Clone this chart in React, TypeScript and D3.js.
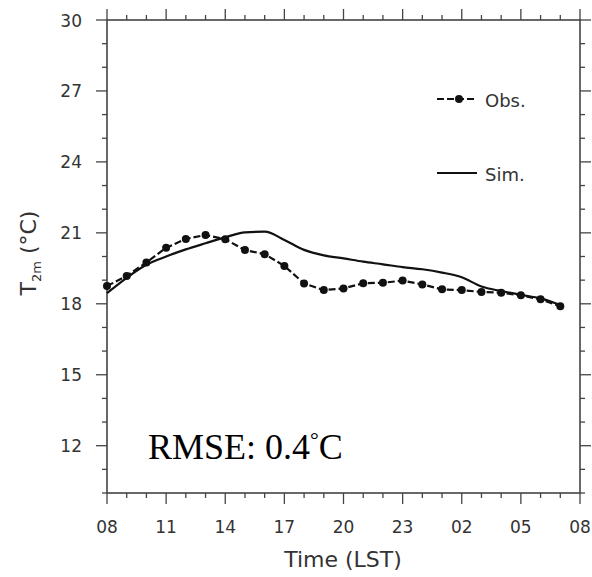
import React from "react";
import * as d3 from "d3";

const hours = d3.range(0, 24);
const obsValues = [18.75, 19.18, 19.75, 20.37, 20.74, 20.91, 20.73, 20.27, 20.1, 19.6, 18.86, 18.58, 18.65, 18.87, 18.89, 18.98, 18.82, 18.61, 18.58, 18.5, 18.47, 18.36, 18.19, 17.9];
const simValues = [18.45, 19.1, 19.65, 20.0, 20.3, 20.56, 20.81, 21.02, 21.05, 20.7, 20.28, 20.05, 19.92, 19.78, 19.67, 19.55, 19.46, 19.32, 19.12, 18.73, 18.54, 18.38, 18.23, 17.95];
const xTickLabels = ["08", "11", "14", "17", "20", "23", "02", "05", "08"];
const yTicks = [12, 15, 18, 21, 24, 27, 30];

export default function App() {
  const W = 592, H = 577;
  const left = 107, right = 580, top = 20, bottom = 493;
  const x = d3.scaleLinear().domain([0, 24]).range([left, right]);
  const y = d3.scaleLinear().domain([10, 30]).range([bottom, top]);
  const line = d3.line<number>().x((_, i) => x(hours[i])).y((d) => y(d));
  const simLine = d3.line<number>().x((_, i) => x(hours[i])).y((d) => y(d)).curve(d3.curveMonotoneX);
  const axisColor = "#444";
  const labelColor = "#333";
  const font = "'DejaVu Sans', Verdana, sans-serif";
  const majorLen = 11, minorLen = 5;
  const xMinor = d3.range(0, 25);
  const yMinor = d3.range(10, 31);

  return (
    <svg width={W} height={H} style={{ position: "absolute", left: 0, top: 0 }}>
      <rect x={0} y={0} width={W} height={H} fill="white" />
      {xMinor.map((h) => {
        const major = h % 3 === 0;
        const len = major ? majorLen : minorLen;
        return (
          <g key={"xt" + h} stroke={axisColor} strokeWidth={1.3}>
            <line x1={x(h)} x2={x(h)} y1={bottom} y2={bottom + len} />
            <line x1={x(h)} x2={x(h)} y1={top} y2={top - len} />
          </g>
        );
      })}
      {yMinor.map((v) => {
        const major = v % 3 === 0;
        const len = major ? majorLen : minorLen;
        return (
          <g key={"yt" + v} stroke={axisColor} strokeWidth={1.3}>
            <line x1={left} x2={left - len} y1={y(v)} y2={y(v)} />
            <line x1={right} x2={right + len} y1={y(v)} y2={y(v)} />
          </g>
        );
      })}
      <rect x={left} y={top} width={right - left} height={bottom - top} fill="none" stroke={axisColor} strokeWidth={1.6} />
      {xTickLabels.map((t, i) => (
        <text key={"xl" + i} x={x(i * 3)} y={533} textAnchor="middle" fontFamily={font} fontSize={17} fill={labelColor}>{t}</text>
      ))}
      {yTicks.map((v) => (
        <text key={"yl" + v} x={82} y={y(v) + 6.5} textAnchor="end" fontFamily={font} fontSize={17} fill={labelColor}>{v}</text>
      ))}
      <text x={343} y={567} textAnchor="middle" fontFamily={font} fontSize={22} fill={labelColor}>Time (LST)</text>
      <text transform="translate(36,253) rotate(-90)" textAnchor="middle" fontFamily={font} fontSize={22} fill={labelColor}>
        T<tspan fontSize={13} dy={5}>2m</tspan><tspan dy={-5}> (°C)</tspan>
      </text>
      <path d={simLine(simValues) || ""} fill="none" stroke="#111" strokeWidth={2.2} strokeLinejoin="round" />
      <path d={line(obsValues) || ""} fill="none" stroke="#111" strokeWidth={2.2} strokeDasharray="7,3" />
      {obsValues.map((v, i) => (
        <circle key={"o" + i} cx={x(hours[i])} cy={y(v)} r={4} fill="#111" />
      ))}
      <line x1={437} x2={477} y1={99} y2={99} stroke="#111" strokeWidth={2.2} strokeDasharray="7,3" />
      <circle cx={459} cy={99} r={4} fill="#111" />
      <text x={485} y={107} fontFamily={font} fontSize={18} fill={labelColor}>Obs.</text>
      <line x1={437} x2={477} y1={173} y2={173} stroke="#111" strokeWidth={2.2} />
      <text x={485} y={181} fontFamily={font} fontSize={18} fill={labelColor}>Sim.</text>
      <text x={148} y={459} fontFamily="'Liberation Serif', 'Times New Roman', serif" fontSize={36} fill="#000">
        RMSE: 0.4<tspan fontSize={22} dy={-12}>°</tspan><tspan dy={12}>C</tspan>
      </text>
    </svg>
  );
}
